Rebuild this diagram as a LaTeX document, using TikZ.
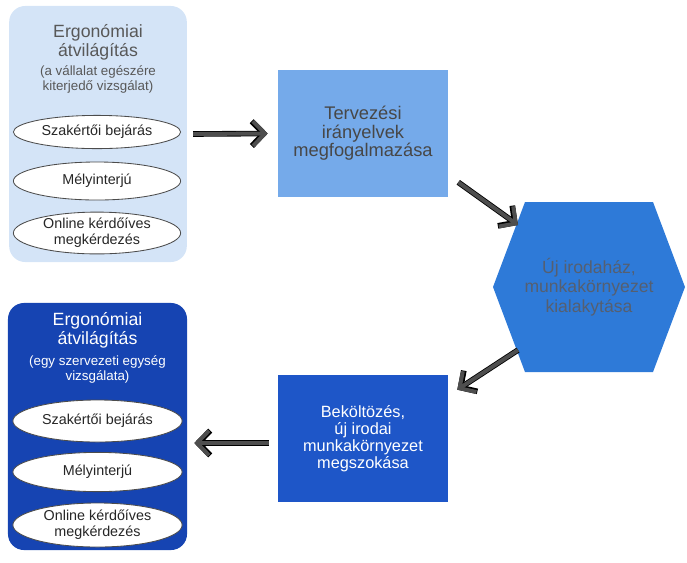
\documentclass[tikz,border=0pt]{standalone}
\usepackage{fontspec}
\setmainfont{Liberation Sans}
\usepackage{xcolor}
\usetikzlibrary{arrows.meta,shapes.geometric}

\definecolor{paleblue}{RGB}{212,228,247}
\definecolor{lightblue}{RGB}{117,170,234}
\definecolor{midblue}{RGB}{46,122,216}
\definecolor{deepblue}{RGB}{30,86,200}
\definecolor{darkblue}{RGB}{22,68,178}
\definecolor{arrowgray}{RGB}{78,78,78}
\definecolor{titlegray}{RGB}{88,88,88}
\definecolor{hexgray}{RGB}{85,95,112}

\tikzset{
    panel/.style={rounded corners=0.4cm, inner sep=0pt},
    head/.style={align=center, inner sep=0pt, font=\fontsize{12.6}{13.6}\selectfont},
    sub/.style={align=center, inner sep=0pt, font=\fontsize{9.5}{10.8}\selectfont},
    oval/.style={ellipse, draw=black!70, line width=0.6pt, fill=white, text=black!85,
        minimum width=4.18cm, inner sep=0pt, align=center,
        font=\fontsize{10.2}{11.4}\selectfont},
    stepbox/.style={inner sep=0pt, minimum width=4.25cm, minimum height=3.175cm, align=center},
    flow/.style={draw=arrowgray, line width=2.8pt, -{Straight Barb[length=0.3cm,width=0.62cm]},
        preaction={draw=black, line width=4pt, -{Straight Barb[length=0.3cm,width=0.62cm]}}}
}

\begin{document}
\begin{tikzpicture}[x=0.025cm, y=-0.025cm]
    \useasboundingbox (0,0) rectangle (687,562);

    % Left panels
    \node[panel, fill=paleblue, minimum width=4.44cm, minimum height=6.4cm] (pan1) at (98,134) {};
    \node[panel, fill=darkblue, minimum width=4.475cm, minimum height=6.175cm] (pan2) at (97.5,426.5) {};

    % Panel titles
    \node[head, text=titlegray] (head1) at (98,42.5) {Ergonómiai\\átvilágítás};
    \node[sub, text=titlegray] (sub1) at (98,79.5) {(a vállalat egészére\\kiterjedő vizsgálat)};
    \node[head, text=white] (head2) at (97.5,330) {Ergonómiai\\átvilágítás};
    \node[sub, text=white] (sub2) at (97.5,369.5) {(egy szervezeti egység\\vizsgálata)};

    % Methods in the panels
    \foreach \n/\y/\h/\t in {1/132/0.83/{Szakértői bejárás}, 2/181/0.95/{Mélyinterjú}, 3/233/1.0/{Online kérdőíves\\megkérdezés}}
        \node[oval, minimum height=\h cm] (top\n) at (97,\y) {\t};
    \foreach \n/\y/\h/\t in {1/421/1.05/{Szakértői bejárás}, 2/472/0.98/{Mélyinterjú}, 3/525/1.1/{Online kérdőíves\\megkérdezés}}
        \node[oval, minimum height=\h cm, minimum width=4.23cm] (bot\n) at (97.5,\y) {\t};

    % Steps
    \node[stepbox, fill=lightblue, text=black!72, font=\fontsize{13}{13.2}\selectfont] (plan) at (363,133.5)
        {Tervezési\\irányelvek\\megfogalmazása};
    \fill[midblue] (493,287) -- (525,202) -- (653,202) -- (685,287) -- (653,372) -- (525,372) -- cycle;
    \node[align=center, text=hexgray, font=\fontsize{12.5}{13.8}\selectfont] (build) at (589,287)
        {Új irodaház,\\munkakörnyezet\\kialakytása};
    \node[stepbox, fill=deepblue, text=white, font=\fontsize{11.6}{12.2}\selectfont] (move) at (363,438.5)
        {Beköltözés,\\új irodai\\munkakörnyezet\\megszokása};

    % Arrows
    \coordinate (toBuild) at (518,225);
    \coordinate (fromBuild) at (518,350);
    \draw[flow] ([xshift=0.15cm]pan1.east) -- ([xshift=-0.25cm]plan.west);
    \draw[flow] ([shift={(10,-15)}]plan.south east) -- (toBuild);
    \draw[flow] (fromBuild) -- ([shift={(9,15)}]move.north east);
    \draw[flow] ([shift={(-9,4.5)}]move.west) -- ([shift={(7,16.5)}]pan2.east);
\end{tikzpicture}
\end{document}
